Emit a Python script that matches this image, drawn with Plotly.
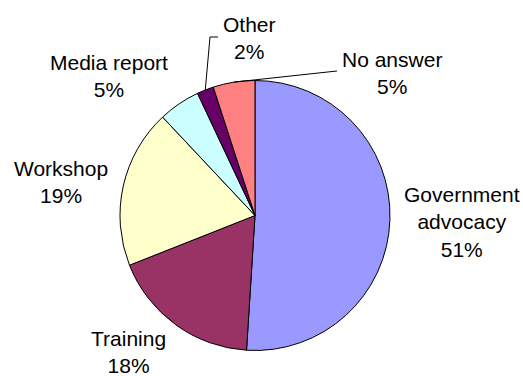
import math
import plotly.graph_objects as go

# Share of responses by channel
categories = ["Government advocacy", "Training", "Workshop", "Media report", "Other", "No answer"]
values = [51, 18, 19, 5, 2, 5]
display_names = ["Government<br>advocacy", "Training", "Workshop", "Media report", "Other", "No answer"]
colors = ["#9999FF", "#993366", "#FFFFCC", "#CCFFFF", "#660066", "#FF8080"]

W, H = 523, 376
CX, CY, R = 255, 215.5, 135  # pie centre and radius in pixels

# label block centres (pixels), one per category
label_pos = [(462, 222), (128, 352), (61, 182), (109, 76), (249, 38), (392, 72.5)]


def px(x, y):
    return x / W, 1 - y / H


fig = go.Figure()
fig.add_trace(go.Pie(
    labels=categories,
    values=values,
    sort=False,
    direction="clockwise",
    rotation=0,
    marker=dict(colors=colors, line=dict(color="black", width=1)),
    textinfo="none",
    hoverinfo="label+percent",
    domain=dict(x=[(CX - R) / W, (CX + R) / W],
                y=[(H - CY - R) / H, (H - CY + R) / H]),
))

total = sum(values)
annotations = []
for name, v, (lx, ly) in zip(display_names, values, label_pos):
    ax, ay = px(lx, ly)
    annotations.append(dict(
        x=ax, y=ay, xref="paper", yref="paper",
        text=f"{name}<br>{round(100 * v / total)}%",
        showarrow=False, xanchor="center", yanchor="middle",
        font=dict(family="Liberation Sans, Arial, sans-serif", size=21, color="black"),
    ))


def slice_mid_point(idx):
    start = sum(values[:idx])
    mid = (start + values[idx] / 2) / total * 2 * math.pi
    return CX + R * math.sin(mid), CY - R * math.cos(mid)


# leader lines for the two small slices
shapes = []
ox, oy = slice_mid_point(4)
other_path = [(ox, oy), (210, 37), (218, 37)]
nx, ny = slice_mid_point(5)
noans_path = [(nx, ny), (337, 71)]
for path in (other_path, noans_path):
    pts = [px(x, y) for x, y in path]
    d = "M " + " L ".join(f"{x:.4f},{y:.4f}" for x, y in pts)
    shapes.append(dict(type="path", path=d, xref="paper", yref="paper",
                       line=dict(color="black", width=1)))

fig.update_layout(
    width=W, height=H,
    margin=dict(l=0, r=0, t=0, b=0),
    paper_bgcolor="white",
    plot_bgcolor="white",
    showlegend=False,
    annotations=annotations,
    shapes=shapes,
)

fig.write_html("out.html")
